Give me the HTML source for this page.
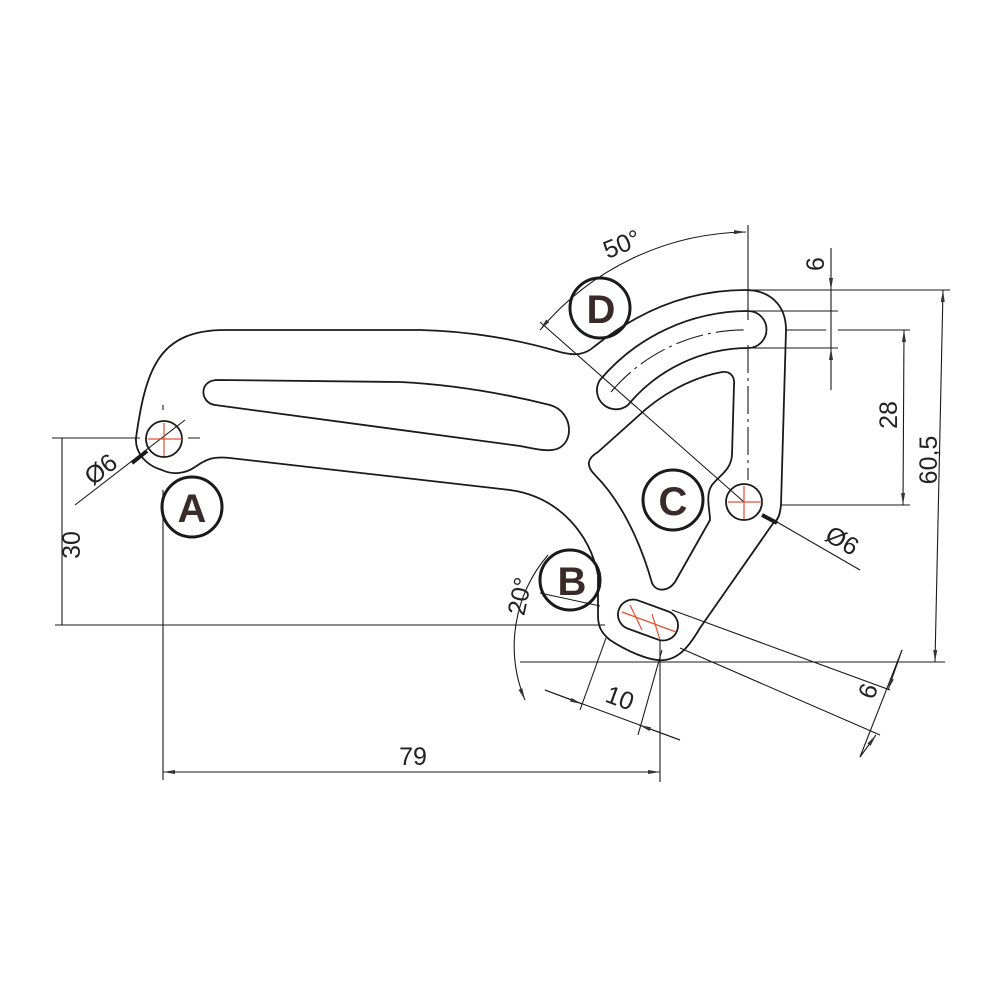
<!DOCTYPE html>
<html><head><style>html,body{margin:0;padding:0;background:#fff}svg{display:block}</style></head>
<body>
<svg width="1000" height="1000" viewBox="0 0 1000 1000" xmlns="http://www.w3.org/2000/svg">
<defs>
<marker id="ar" viewBox="0 0 12 6" refX="12" refY="3" markerWidth="12" markerHeight="6" orient="auto-start-reverse" markerUnits="userSpaceOnUse"><path d="M0,1 L12,3 L0,5z" fill="#333"/></marker>
</defs>
<g fill="none" stroke="#1a1a1a" stroke-width="1.8" stroke-linecap="round" stroke-linejoin="round">
<path d="M136,438 C140,410 145,380 158,360 C172,338 195,330 225,330 L420,330 C470,331 520,340 560,352 C575,356 585,355 595,346 C640,310 690,290 745,290 C770,290 786,305 786,330 L781,505 C780,515 778,520 774,522 L700,628 C690,645 680,658 665,660 C650,662 625,650 610,640 C600,632 598,625 598,615 L598,575 C590,535 560,497 510,490 L230,458 C212,456 205,460 195,467 C185,474 172,475 162,470 C145,465 135,452 136,438 Z"/>
<circle cx="164" cy="439" r="18"/>
<path d="M218,380 L400,382 C460,385 510,395 550,405 C575,412 575,448 552,450 C545,451 535,449 520,446 L215,405 C200,403 198,380 218,380 Z"/>
<path d="M748,311 A194,194 0 0 0 600,380 A19,19 0 0 0 628,405 A157,157 0 0 1 748,348 A18.5,18.5 0 0 0 748,311 Z"/>
<path d="M636,418 C660,395 690,378 722,372 C730,371 735,376 734,385 L732,455 C731,470 720,475 712,485 C705,495 710,510 710,520 L675,582 C668,592 656,592 652,583 C640,540 620,500 595,475 C585,465 588,458 598,452 Z"/>
<circle cx="744" cy="502" r="18"/>
<rect x="617" y="605" width="62" height="30" rx="15" transform="rotate(20 648 620)"/>
<circle cx="192" cy="507" r="30" stroke-width="3"/>
<circle cx="570" cy="580" r="30" stroke-width="3"/>
<circle cx="673" cy="500" r="30" stroke-width="3"/>
<circle cx="600" cy="308" r="30" stroke-width="3"/>
</g>
<g fill="none" stroke="#1a1a1a" stroke-width="1.1">
<path d="M748,345 L748,480" stroke-dasharray="28,5,3,5"/>
<path d="M748,225 L748,320"/>
<path d="M611,392 A175,175 0 0 1 748,330" stroke-dasharray="28,5,3,5"/>
<path d="M540,322 L744,502"/>
<path d="M777,522 L860,570"/>
<path d="M52,438 L140,438 M188,438 L200,438 M163,405 L163,410"/>
<path d="M163,490 L163,780"/>
<path d="M55,625 L605,625"/>
<path d="M520,662 L945,662"/>
<path d="M163,772 L660,772" marker-start="url(#ar)" marker-end="url(#ar)"/>
<path d="M660,640 L660,782"/>
<path d="M62,438 L62,625"/>
<path d="M75,505 L185,420"/>
<path d="M147,451 L132,463" stroke-width="4"/>
<path d="M745,290 L950,290"/>
<path d="M943,290 L935,662" marker-start="url(#ar)" marker-end="url(#ar)"/>
<path d="M838,330 L910,330 M780,505 L910,505"/>
<path d="M904,330 L903,505" marker-start="url(#ar)" marker-end="url(#ar)"/>
<path d="M748,311 L838,311 M748,348 L838,348 M786,330 L826,330"/>
<path d="M831,248 L831,290" marker-end="url(#ar)"/>
<path d="M831,390 L831,348" marker-end="url(#ar)"/>
<path d="M831,290 L831,348"/>
<path d="M540,330 A273,273 0 0 1 746,232" marker-start="url(#ar)" marker-end="url(#ar)"/>
<path d="M762,515 L777,523" stroke-width="4"/>
<path d="M548,555 A140,140 0 0 0 525,700" marker-end="url(#ar)"/>
<path d="M540,593 L600,606"/>
<path d="M606,638 L580,710 M662,650 L638,735"/>
<path d="M545,690 L680,740"/>
<path d="M545,690 L582,704" marker-end="url(#ar)"/>
<path d="M680,740 L639,725" marker-end="url(#ar)"/>
<path d="M672,610 L890,690 M680,648 L880,735"/>
<path d="M902,650 L860,757"/>
<path d="M902,650 L888,690" marker-end="url(#ar)"/>
<path d="M860,757 L876,735" marker-end="url(#ar)"/>
</g>
<g stroke="#e05030" stroke-width="1.2">
<path d="M148,439 L182,439 M164,423 L164,456"/>
<path d="M728,502 L762,502 M744,486 L744,519"/>
<path d="M622,612 L676,632 M630,605 L642,630 M652,614 L660,640"/>
</g>
<g font-family="Liberation Sans, sans-serif" fill="#222">
<g font-size="40" font-weight="bold" fill="#3a2a2a" text-anchor="middle">
<text x="192" y="522">A</text>
<text x="572" y="595">B</text>
<text x="673" y="515">C</text>
<text x="601" y="323">D</text>
</g>
<g font-size="25" text-anchor="middle">
<text x="413" y="765">79</text>
<text transform="translate(80,545) rotate(-90)">30</text>
<text transform="translate(106,476) rotate(-38)">Ø6</text>
<text transform="translate(625,252) rotate(-22)">50°</text>
<text transform="translate(897,415) rotate(-90)">28</text>
<text transform="translate(937,460) rotate(-90)">60,5</text>
<text transform="translate(824,264) rotate(-90)">6</text>
<text transform="translate(838,548) rotate(30)">Ø6</text>
<text transform="translate(528,598) rotate(-78)">20°</text>
<text transform="translate(617,706) rotate(20)">10</text>
<text transform="translate(876,694) rotate(-70)">6</text>
</g>
</g>
</svg>
</body></html>
